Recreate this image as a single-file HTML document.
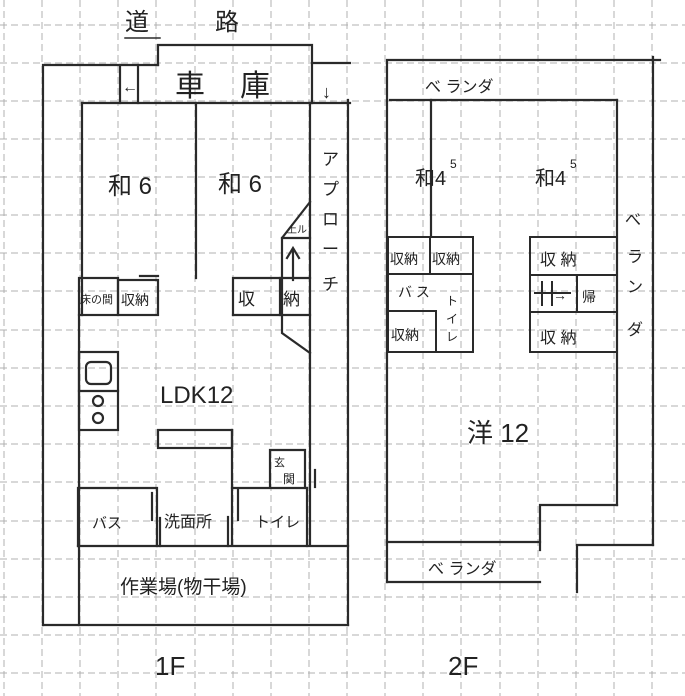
<!DOCTYPE html>
<html><head><meta charset="utf-8"><style>
html,body{margin:0;padding:0;background:#fff;}
svg{display:block;}
text{font-family:"Liberation Sans","Noto Sans CJK JP",sans-serif;fill:#222;}
</style></head><body>
<svg width="685" height="696" viewBox="0 0 685 696" xmlns="http://www.w3.org/2000/svg">
<rect width="685" height="696" fill="#fff"/>
<g stroke="#b0b0b0" stroke-width="1" stroke-dasharray="7,4">
<line x1="0" y1="25" x2="685" y2="25"/><line x1="0" y1="63" x2="685" y2="63"/><line x1="0" y1="101" x2="685" y2="101"/><line x1="0" y1="139" x2="685" y2="139"/><line x1="0" y1="177" x2="685" y2="177"/><line x1="0" y1="215" x2="685" y2="215"/><line x1="0" y1="253" x2="685" y2="253"/><line x1="0" y1="291" x2="685" y2="291"/><line x1="0" y1="330" x2="685" y2="330"/><line x1="0" y1="368" x2="685" y2="368"/><line x1="0" y1="406" x2="685" y2="406"/><line x1="0" y1="444" x2="685" y2="444"/><line x1="0" y1="482" x2="685" y2="482"/><line x1="0" y1="521" x2="685" y2="521"/><line x1="0" y1="559" x2="685" y2="559"/><line x1="0" y1="597" x2="685" y2="597"/><line x1="0" y1="635" x2="685" y2="635"/><line x1="0" y1="673" x2="685" y2="673"/>
<line x1="4" y1="0" x2="4" y2="696"/><line x1="42" y1="0" x2="42" y2="696"/><line x1="80" y1="0" x2="80" y2="696"/><line x1="118" y1="0" x2="118" y2="696"/><line x1="156" y1="0" x2="156" y2="696"/><line x1="195" y1="0" x2="195" y2="696"/><line x1="233" y1="0" x2="233" y2="696"/><line x1="271" y1="0" x2="271" y2="696"/><line x1="309" y1="0" x2="309" y2="696"/><line x1="347" y1="0" x2="347" y2="696"/><line x1="385" y1="0" x2="385" y2="696"/><line x1="423" y1="0" x2="423" y2="696"/><line x1="461" y1="0" x2="461" y2="696"/><line x1="500" y1="0" x2="500" y2="696"/><line x1="538" y1="0" x2="538" y2="696"/><line x1="576" y1="0" x2="576" y2="696"/><line x1="614" y1="0" x2="614" y2="696"/><line x1="652" y1="0" x2="652" y2="696"/>
</g>
<g stroke="#2a2a2a" stroke-width="2.2" fill="none" stroke-linecap="square">
<polyline points="43,625 43,65 158,65"/>
<polyline points="158,65 158,45 312,45 312,103"/>
<line x1="312" y1="63" x2="350" y2="63"/>
<line x1="82" y1="103" x2="350" y2="103"/>
<line x1="120" y1="65" x2="120" y2="103"/>
<line x1="138" y1="65" x2="138" y2="103"/>
<line x1="82" y1="103" x2="82" y2="315"/>
<line x1="79" y1="315" x2="79" y2="625"/>
<line x1="196" y1="103" x2="196" y2="278"/>
<line x1="310" y1="103" x2="310" y2="545"/>
<line x1="348" y1="100" x2="348" y2="625"/>
<line x1="43" y1="625" x2="348" y2="625"/>
<rect x="79" y="278" width="39" height="37"/>
<rect x="118" y="280" width="40" height="35"/>
<line x1="140" y1="276" x2="158" y2="276"/>
<polyline points="233,315 233,278 310,278"/>
<line x1="280" y1="278" x2="280" y2="315"/>
<polyline points="310,202 282,238 282,333 310,353"/>
<line x1="282" y1="238" x2="310" y2="238"/>
<line x1="293" y1="250" x2="293" y2="280"/>
<polyline points="287,258 293,248 299,258"/>
<line x1="233" y1="315" x2="310" y2="315"/>
<rect x="79" y="352" width="39" height="78"/>
<line x1="79" y1="391" x2="118" y2="391"/>
<rect x="86" y="362" width="25" height="22" rx="5"/>
<circle cx="98" cy="401" r="5"/><circle cx="98" cy="418" r="5"/>
<rect x="158" y="430" width="74" height="18"/>
<line x1="232" y1="430" x2="232" y2="545"/>
<polyline points="270,487 270,450 305,450 305,487"/>
<line x1="315" y1="470" x2="315" y2="487"/>
<polyline points="78,546 78,488 157,488 157,546"/>
<line x1="152" y1="493" x2="152" y2="520"/>
<line x1="160" y1="518" x2="160" y2="546"/>
<line x1="228" y1="517" x2="228" y2="546"/>
<line x1="232" y1="488" x2="307" y2="488"/>
<line x1="307" y1="488" x2="307" y2="546"/>
<line x1="238" y1="490" x2="238" y2="520"/>
<line x1="78" y1="546" x2="348" y2="546"/>
<line x1="125" y1="38" x2="160" y2="38" stroke-width="1.5"/>
<polyline points="387,582 387,60 660,60"/>
<line x1="653" y1="57" x2="653" y2="545"/>
<line x1="390" y1="100" x2="617" y2="100"/>
<line x1="617" y1="100" x2="617" y2="505"/>
<line x1="431" y1="100" x2="431" y2="235"/>
<polyline points="617,505 540,505 540,550"/>
<line x1="387" y1="542" x2="540" y2="542"/>
<polyline points="653,545 577,545 577,592"/>
<line x1="387" y1="582" x2="540" y2="582"/>
<rect x="388" y="237" width="85" height="115" stroke-width="2"/>
<line x1="388" y1="274" x2="473" y2="274" stroke-width="2"/>
<line x1="388" y1="311" x2="436" y2="311" stroke-width="2"/>
<line x1="430" y1="237" x2="430" y2="274" stroke-width="2"/>
<line x1="436" y1="311" x2="436" y2="352" stroke-width="2"/>
<rect x="530" y="237" width="87" height="115" stroke-width="2"/>
<line x1="530" y1="275" x2="617" y2="275" stroke-width="2"/>
<line x1="530" y1="312" x2="617" y2="312" stroke-width="2"/>
<line x1="577" y1="275" x2="577" y2="312" stroke-width="2"/>
<line x1="535" y1="293" x2="570" y2="293" stroke-width="2"/>
<line x1="542" y1="282" x2="542" y2="305" stroke-width="2"/>
<line x1="552" y1="282" x2="552" y2="305" stroke-width="2"/>
</g>
<g font-size="20">
<text x="125" y="30" font-size="24">道</text><text x="215" y="30" font-size="24">路</text>
<text x="122" y="92" font-size="16">←</text>
<text x="175" y="96" font-size="30">車</text><text x="240" y="96" font-size="30">庫</text>
<text x="322" y="98" font-size="18">↓</text>
<text x="108" y="194" font-size="24">和 6</text>
<text x="218" y="192" font-size="24">和 6</text>
<text x="322" y="165" font-size="17">ア</text><text x="322" y="195" font-size="17">プ</text><text x="322" y="225" font-size="17">ロ</text><text x="322" y="255" font-size="17">ー</text><text x="322" y="290" font-size="17">チ</text>
<text x="287" y="233" font-size="10">上ル</text>
<text x="80" y="303" font-size="11">床の間</text>
<text x="121" y="305" font-size="14">収納</text>
<text x="238" y="305" font-size="17">収</text><text x="283" y="305" font-size="17">納</text>
<text x="160" y="403" font-size="24">LDK12</text>
<text x="274" y="466" font-size="11">玄</text><text x="283" y="483" font-size="12">関</text>
<text x="92" y="528" font-size="15">バス</text>
<text x="164" y="527" font-size="16">洗面所</text>
<text x="255" y="527" font-size="15">トイレ</text>
<text x="120" y="593" font-size="19">作業場(物干場)</text>
<text x="155" y="675" font-size="26">1F</text>
<text x="448" y="675" font-size="26">2F</text>
<text x="425" y="92" font-size="16">べ ランダ</text>
<text x="415" y="185" font-size="20">和4</text><text x="450" y="168" font-size="12">5</text>
<text x="535" y="185" font-size="20">和4</text><text x="570" y="168" font-size="12">5</text>
<text x="625" y="225" font-size="16">べ</text><text x="627" y="262" font-size="16">ラ</text><text x="627" y="292" font-size="16">ン</text><text x="627" y="335" font-size="16">ダ</text>
<text x="390" y="264" font-size="14">収納</text><text x="432" y="264" font-size="14">収納</text>
<text x="398" y="297" font-size="14">バ ス</text>
<text x="391" y="340" font-size="14">収納</text>
<text x="446" y="305" font-size="12">ト</text><text x="446" y="323" font-size="12">イ</text><text x="446" y="341" font-size="12">レ</text>
<text x="540" y="265" font-size="16">収 納</text>
<text x="553" y="300" font-size="14">→</text><text x="582" y="302" font-size="14">帰</text>
<text x="540" y="343" font-size="16">収 納</text>
<text x="467" y="442" font-size="26">洋 12</text>
<text x="428" y="574" font-size="16">べ ランダ</text>
</g>
</svg>
</body></html>
